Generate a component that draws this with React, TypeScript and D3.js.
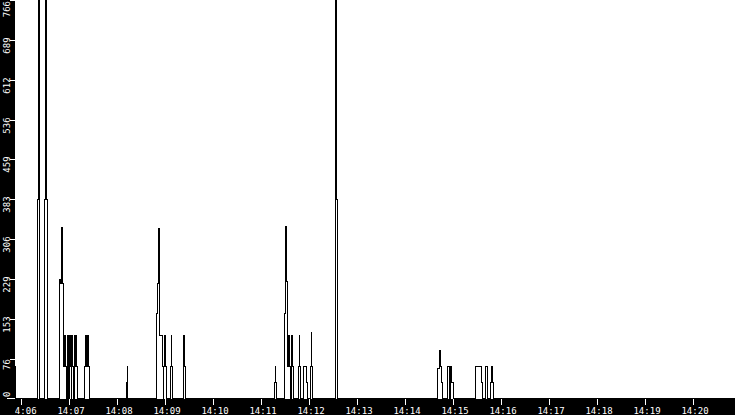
import React, { useEffect, useRef } from 'react';
import * as d3 from 'd3';

const WIDTH = 735;
const HEIGHT = 415;

// time window shown on the x axis
const timeDomain = ['14:05:52', '14:20:52'];

// sample times and values (only the points where the value changes)
const sampleTimes = [
  '14:05:51', '14:05:52', '14:05:53',
  '14:06:20', '14:06:21', '14:06:22', '14:06:23',
  '14:06:29', '14:06:30', '14:06:31', '14:06:32',
  '14:06:47', '14:06:48', '14:06:49', '14:06:50', '14:06:51', '14:06:52', '14:06:53', '14:06:54',
  '14:06:55', '14:06:56', '14:06:57', '14:06:58', '14:06:59', '14:07:00', '14:07:01', '14:07:02',
  '14:07:03', '14:07:04', '14:07:05', '14:07:06', '14:07:07', '14:07:08', '14:07:09', '14:07:10',
  '14:07:19', '14:07:20', '14:07:21', '14:07:22', '14:07:23', '14:07:24', '14:07:25',
  '14:08:11', '14:08:12', '14:08:13',
  '14:08:49', '14:08:50', '14:08:51', '14:08:52', '14:08:53', '14:08:54', '14:08:55', '14:08:56',
  '14:08:57', '14:08:58', '14:08:59', '14:09:00', '14:09:01',
  '14:09:06', '14:09:07', '14:09:08', '14:09:09',
  '14:09:22', '14:09:23', '14:09:24', '14:09:25',
  '14:11:16', '14:11:17', '14:11:18', '14:11:19',
  '14:11:29', '14:11:30', '14:11:31', '14:11:32', '14:11:33', '14:11:34', '14:11:35', '14:11:36',
  '14:11:37', '14:11:38', '14:11:39', '14:11:40',
  '14:11:46', '14:11:47', '14:11:48', '14:11:49',
  '14:11:52', '14:11:53', '14:11:54', '14:11:55', '14:11:56', '14:11:57',
  '14:12:01', '14:12:02', '14:12:03', '14:12:04',
  '14:12:32', '14:12:33', '14:12:34', '14:12:35',
  '14:14:40', '14:14:41', '14:14:42', '14:14:43', '14:14:44', '14:14:45', '14:14:46',
  '14:14:52', '14:14:53', '14:14:54', '14:14:55', '14:14:56', '14:14:57', '14:14:58', '14:14:59', '14:15:00',
  '14:15:27', '14:15:28', '14:15:34', '14:15:35', '14:15:36',
  '14:15:40', '14:15:41', '14:15:42', '14:15:43',
  '14:15:46', '14:15:47', '14:15:48', '14:15:49', '14:15:50',
  '14:20:52',
];

const sampleValues = [
  61, 30, 0,
  383, 766, 383, 0,
  383, 766, 383, 0,
  113, 228, 222, 328, 222, 122, 61, 122,
  61, 0, 61, 122, 0, 122, 61, 0,
  122, 61, 0, 122, 61, 122, 61, 0,
  61, 122, 61, 61, 122, 61, 0,
  30, 61, 0,
  164, 221, 326, 222, 122, 122, 122, 61,
  0, 61, 122, 61, 0,
  61, 122, 61, 0,
  61, 122, 61, 0,
  30, 61, 30, 0,
  164, 331, 225, 164, 61, 122, 61, 0,
  61, 122, 61, 0,
  61, 122, 61, 0,
  30, 61, 61, 61, 30, 0,
  61, 126, 61, 0,
  383, 766, 383, 0,
  58, 58, 77, 93, 61, 30, 0,
  61, 61, 61, 0, 61, 61, 30, 30, 0,
  30, 61, 61, 30, 0,
  61, 61, 61, 0,
  30, 61, 61, 30, 0,
  0,
];

const yMax = 766;
const yTickLabels = ['0', '76', '153', '229', '306', '383', '459', '536', '612', '689', '766'];
const xTickLabels = [
  '14:06', '14:07', '14:08', '14:09', '14:10', '14:11', '14:12', '14:13',
  '14:14', '14:15', '14:16', '14:17', '14:18', '14:19', '14:20',
];

const App: React.FC = () => {
  const svgRef = useRef<SVGSVGElement>(null);

  useEffect(() => {
    document.body.style.margin = '0';
    if (!svgRef.current) return;

    const svg = d3.select(svgRef.current);
    svg.selectAll('*').remove();

    const plot = { left: 15, right: WIDTH, top: 0, bottom: 398.5 };
    const axisTop = 399;
    const font = '"DejaVu Sans Mono", "Liberation Mono", monospace';

    const parseTime = d3.timeParse('%H:%M:%S');
    const parseMinute = d3.timeParse('%H:%M');
    const data = sampleTimes.map((t, i) => ({ date: parseTime(t)!, value: sampleValues[i] }));

    const xScale = d3.scaleTime()
      .domain(timeDomain.map(t => parseTime(t)!) as [Date, Date])
      .range([plot.left, plot.right]);

    const yScale = d3.scaleLinear()
      .domain([0, yMax])
      .range([plot.bottom, plot.top]);

    svg.append('rect')
      .attr('width', WIDTH)
      .attr('height', HEIGHT)
      .attr('fill', '#ffffff');

    svg.append('clipPath')
      .attr('id', 'plot-clip')
      .append('rect')
      .attr('x', plot.left)
      .attr('y', 0)
      .attr('width', plot.right - plot.left)
      .attr('height', axisTop);

    const line = d3.line<{ date: Date; value: number }>()
      .x(d => xScale(d.date))
      .y(d => yScale(d.value))
      .curve(d3.curveStepAfter);

    svg.append('path')
      .datum(data)
      .attr('clip-path', 'url(#plot-clip)')
      .attr('fill', 'none')
      .attr('stroke', '#000000')
      .attr('stroke-width', 1)
      .attr('shape-rendering', 'crispEdges')
      .attr('d', line);

    // left axis strip
    svg.append('rect')
      .attr('x', 0)
      .attr('y', 0)
      .attr('width', plot.left)
      .attr('height', HEIGHT)
      .attr('fill', '#000000');

    // bottom axis strip
    svg.append('rect')
      .attr('x', 0)
      .attr('y', axisTop)
      .attr('width', WIDTH)
      .attr('height', HEIGHT - axisTop)
      .attr('fill', '#000000');

    // y ticks, labels rotated and read bottom to top
    const yAxis = svg.append('g');
    yTickLabels.forEach((label, i) => {
      const y = Math.round(yScale((yMax * i) / (yTickLabels.length - 1))) + 0.5;
      const y0 = Math.min(y, plot.bottom);
      yAxis.append('line')
        .attr('x1', i === 0 ? 7 : 10)
        .attr('x2', plot.left)
        .attr('y1', y0)
        .attr('y2', y0)
        .attr('stroke', '#ffffff')
        .attr('stroke-width', 1)
        .attr('shape-rendering', 'crispEdges');
      const half = label.length * 2.7;
      const cy = Math.max(half + 1, Math.min(y + 5, 397 - half));
      yAxis.append('text')
        .attr('transform', `translate(10, ${cy}) rotate(-90)`)
        .attr('text-anchor', 'middle')
        .attr('fill', '#ffffff')
        .style('font-family', font)
        .style('font-size', '9px')
        .text(label);
    });

    // x ticks
    const xAxis = svg.append('g');
    xTickLabels.forEach(label => {
      const x = Math.round(xScale(parseMinute(label)!)) + 0.5;
      xAxis.append('line')
        .attr('x1', x)
        .attr('x2', x)
        .attr('y1', axisTop)
        .attr('y2', axisTop + 6)
        .attr('stroke', '#ffffff')
        .attr('stroke-width', 1)
        .attr('shape-rendering', 'crispEdges');
      xAxis.append('text')
        .attr('x', x + 1.5)
        .attr('y', 413.5)
        .attr('text-anchor', 'middle')
        .attr('fill', '#ffffff')
        .style('font-family', font)
        .style('font-size', '9px')
        .text(label);
    });

    // the strip covers the start of the first x label
    svg.append('rect')
      .attr('x', 0)
      .attr('y', axisTop)
      .attr('width', plot.left)
      .attr('height', HEIGHT - axisTop)
      .attr('fill', '#000000');
  }, []);

  return <svg ref={svgRef} width={WIDTH} height={HEIGHT} style={{ display: 'block' }} />;
};

export default App;
